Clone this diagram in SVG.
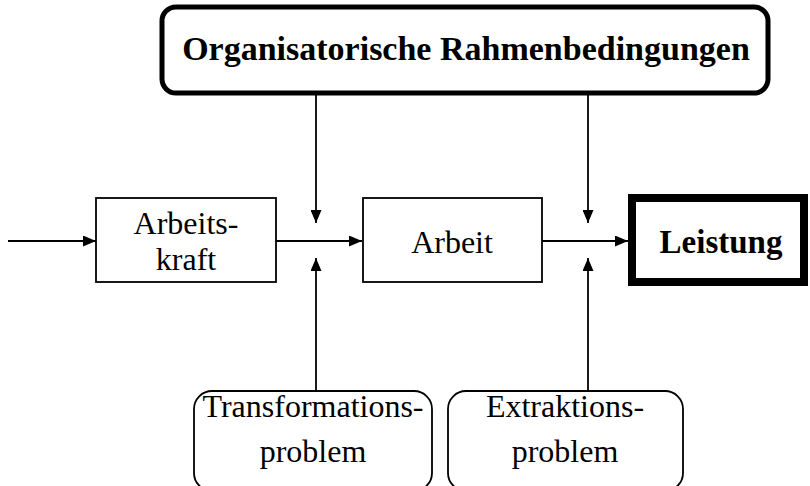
<svg xmlns="http://www.w3.org/2000/svg" width="810" height="486" viewBox="0 0 810 486">
<defs>
<marker id="ah" markerWidth="13" markerHeight="11" refX="13" refY="5.5" orient="auto" markerUnits="userSpaceOnUse">
<path d="M0,0 L13,5.5 L0,11 Z" fill="#000"/>
</marker>
<style>
.t{font-family:"Liberation Serif","Times New Roman",serif;font-size:32px;fill:#000;text-anchor:middle}
.b{font-weight:bold;font-size:33px}
.box{fill:#fff;stroke:#000;stroke-width:1.8}
.ln{stroke:#000;stroke-width:1.8;fill:none}
</style>
</defs>
<rect width="810" height="486" fill="#fff"/>
<g id="connectors">
<line class="ln" x1="8" y1="241" x2="96" y2="241" marker-end="url(#ah)"/>
<line class="ln" x1="276" y1="241" x2="362" y2="241" marker-end="url(#ah)"/>
<line class="ln" x1="542" y1="241" x2="628" y2="241" marker-end="url(#ah)"/>
<line class="ln" x1="316" y1="95" x2="316" y2="223" marker-end="url(#ah)"/>
<line class="ln" x1="588" y1="95" x2="588" y2="223" marker-end="url(#ah)"/>
<line class="ln" x1="316" y1="391" x2="316" y2="258" marker-end="url(#ah)"/>
<line class="ln" x1="588" y1="391" x2="588" y2="258" marker-end="url(#ah)"/>
</g>
<g id="rahmen">
<rect x="162" y="7" width="606" height="86" rx="14" fill="#fff" stroke="#000" stroke-width="5"/>
<text class="t b" x="466" y="60" style="font-size:34px">Organisatorische Rahmenbedingungen</text>
</g>
<g id="arbeitskraft">
<rect class="box" x="96" y="198" width="180" height="84"/>
<text class="t" x="186" y="234">Arbeits-</text>
<text class="t" x="186" y="270">kraft</text>
</g>
<g id="arbeit">
<rect class="box" x="363" y="198" width="179" height="84"/>
<text class="t" x="452" y="253">Arbeit</text>
</g>
<g id="leistung">
<rect x="632" y="198" width="172" height="84" fill="#fff" stroke="#000" stroke-width="8"/>
<text class="t b" x="721" y="253">Leistung</text>
</g>
<g id="transformation">
<rect class="box" x="194" y="391" width="238" height="100" rx="18"/>
<text class="t" x="313" y="417">Transformations-</text>
<text class="t" x="313" y="462">problem</text>
</g>
<g id="extraktion">
<rect class="box" x="448" y="391" width="235" height="100" rx="18"/>
<text class="t" x="565" y="417">Extraktions-</text>
<text class="t" x="565" y="462">problem</text>
</g>
</svg>
